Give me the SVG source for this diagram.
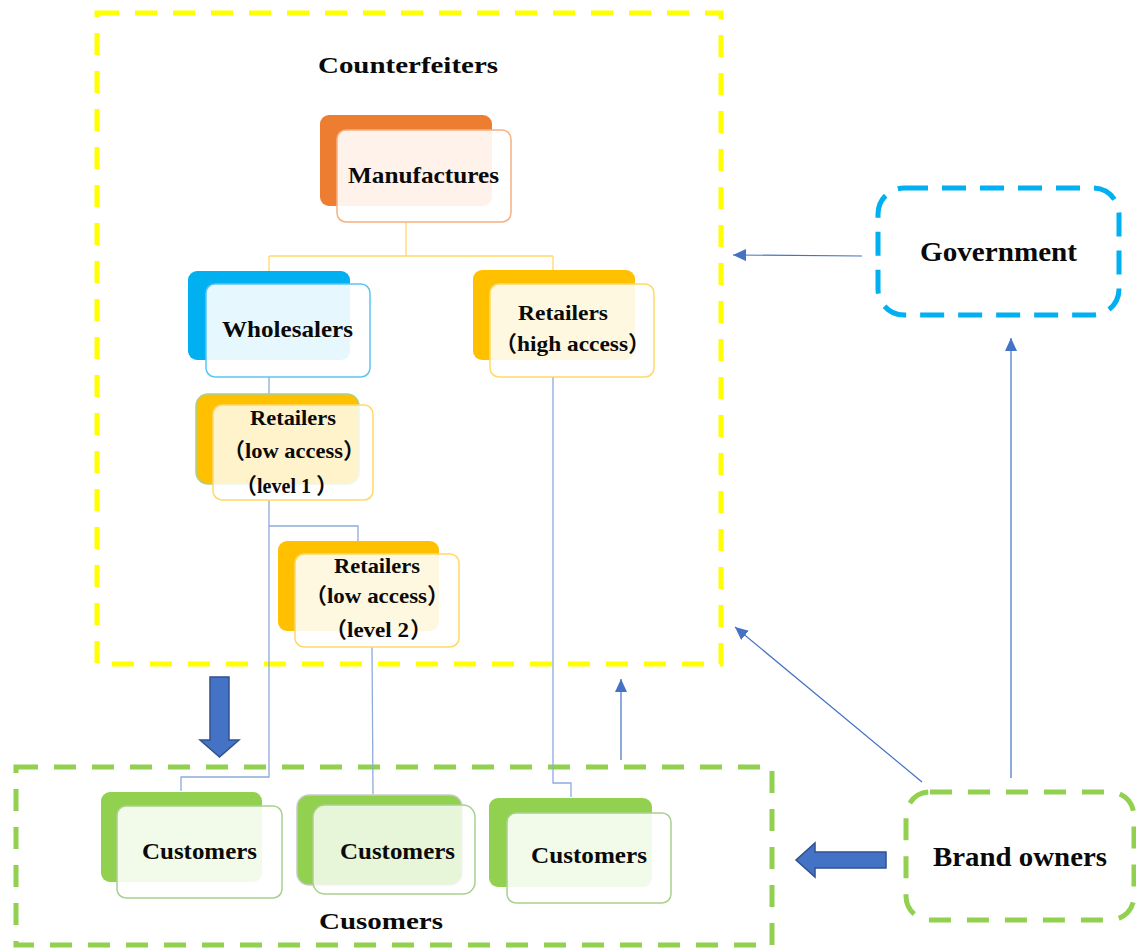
<svg xmlns="http://www.w3.org/2000/svg" width="1136" height="948" viewBox="0 0 1136 948">
  <defs>
    <marker id="tri" markerUnits="userSpaceOnUse" markerWidth="13" markerHeight="12" refX="13" refY="6" orient="auto">
      <path d="M0,0 L13,6 L0,12 z" fill="#4472C4"/>
    </marker>
  </defs>
  <style>
    text { font-family: "Liberation Serif", "Noto Sans CJK SC", serif; font-weight: bold; fill: #0a0a0a; }
    .t24 { font-size: 24px; }
    .t22 { font-size: 22px; }
    .t27 { font-size: 27px; }
    .po { font-size: 22px; font-weight: bold; text-anchor: end; }
    .pc { font-size: 22px; font-weight: bold; text-anchor: start; }
    .frame { fill: none; stroke-width: 5; stroke-dasharray: 22 16; }
    .back { stroke: none; }
    .front { stroke-width: 1.5; }
    .tree { fill: none; stroke-width: 1.3; }
    .arr { fill: none; stroke: #4472C4; stroke-width: 1.2; marker-end: url(#tri); }
    .block { fill: #4472C4; stroke: #2F528F; stroke-width: 1.5; }
  </style>
  <rect width="1136" height="948" fill="#ffffff"/>

  <!-- group frames -->
  <g id="counterfeiters-group">
    <rect class="frame" x="97" y="13" width="624" height="651" stroke="#FFFF00"/>
    <text class="t24" x="318" y="73" textLength="180" lengthAdjust="spacingAndGlyphs">Counterfeiters</text>
  </g>
  <g id="customers-group">
    <rect class="frame" x="16" y="767" width="756" height="178" stroke="#92D050"/>
    <text class="t24" x="319" y="929" textLength="124" lengthAdjust="spacingAndGlyphs">Cusomers</text>
  </g>

  <!-- connectors -->
  <g id="connectors">
    <!-- manufacturer tree -->
    <path class="tree" stroke="#FFD966" d="M406,222 V256 M269,256 H553 M269,256 V271 M553,256 V270"/>
    <!-- distribution lines -->
    <path class="tree" stroke="#8FAADC" d="M269,377 V394"/>
    <path class="tree" stroke="#8FAADC" d="M269,500 V777 H181 V791"/>
    <path class="tree" stroke="#8FAADC" d="M269,526 H358 V541"/>
    <path class="tree" stroke="#8FAADC" d="M372,647 L373,794"/>
    <path class="tree" stroke="#8FAADC" d="M553,377 V783 H571 V797"/>
    <!-- influence arrows -->
    <line class="arr" x1="862" y1="256" x2="733" y2="255"/>
    <line class="arr" x1="1011" y1="778" x2="1011" y2="338"/>
    <line class="arr" x1="922" y1="782" x2="735" y2="627"/>
    <line class="arr" x1="621" y1="760" x2="621" y2="679"/>
    <!-- block arrows -->
    <polygon class="block" points="210,677 229,677 229,740 239,740 219.5,757 200,740 210,740"/>
    <polygon class="block" points="886,852 815,852 815,843 796,860 815,877 815,868 886,868"/>
  </g>

  <!-- nodes -->
  <g id="manufactures">
    <rect class="back" x="320" y="115" width="172" height="91" rx="9" fill="#ED7D31"/>
    <rect class="front" x="337" y="130" width="174" height="92" rx="9" fill="#ffffff" fill-opacity="0.9" stroke="#F4B183"/>
    <text class="t24" x="348" y="183" textLength="151" lengthAdjust="spacingAndGlyphs">Manufactures</text>
  </g>

  <g id="wholesalers">
    <rect class="back" x="188" y="271" width="162" height="89" rx="9" fill="#00B0F0"/>
    <rect class="front" x="206" y="284" width="164" height="93" rx="9" fill="#ffffff" fill-opacity="0.9" stroke="#5BC5F2"/>
    <text class="t24" x="222" y="337" textLength="131" lengthAdjust="spacingAndGlyphs">Wholesalers</text>
  </g>

  <g id="retailers-high">
    <rect class="back" x="473" y="270" width="162" height="90" rx="9" fill="#FFC000"/>
    <rect class="front" x="490" y="284" width="164" height="93" rx="9" fill="#ffffff" fill-opacity="0.88" stroke="#FFD966"/>
    <text class="t22" x="518" y="320" textLength="90" lengthAdjust="spacingAndGlyphs">Retailers</text>
    <text class="po" x="517" y="351">（</text>
    <text class="t22" x="517" y="351" textLength="111" lengthAdjust="spacingAndGlyphs">high access</text>
    <text class="pc" x="628" y="351">）</text>
  </g>

  <g id="retailers-low-1">
    <rect x="196" y="394" width="163" height="90" rx="12" fill="#FFC000" stroke="#A9D18E" stroke-width="1.5"/>
    <rect class="front" x="213" y="405" width="160" height="95" rx="9" fill="#ffffff" fill-opacity="0.8" stroke="#FFD966"/>
    <text class="t22" x="250" y="425" textLength="86" lengthAdjust="spacingAndGlyphs">Retailers</text>
    <text class="po" x="245" y="458">（</text>
    <text class="t22" x="245" y="458" textLength="98" lengthAdjust="spacingAndGlyphs">low access</text>
    <text class="pc" x="343" y="458">）</text>
    <text class="po" x="257" y="493">（</text>
    <text class="t22" x="257" y="493" textLength="54" lengthAdjust="spacingAndGlyphs">level 1</text>
    <text class="pc" x="316" y="493">）</text>
  </g>

  <g id="retailers-low-2">
    <rect class="back" x="278" y="541" width="161" height="90" rx="9" fill="#FFC000"/>
    <rect class="front" x="295" y="554" width="164" height="93" rx="9" fill="#ffffff" fill-opacity="0.88" stroke="#FFD966"/>
    <text class="t22" x="334" y="573" textLength="86" lengthAdjust="spacingAndGlyphs">Retailers</text>
    <text class="po" x="327" y="603">（</text>
    <text class="t22" x="327" y="603" textLength="100" lengthAdjust="spacingAndGlyphs">low access</text>
    <text class="pc" x="427" y="603">）</text>
    <text class="po" x="347" y="637">（</text>
    <text class="t22" x="347" y="637" textLength="62" lengthAdjust="spacingAndGlyphs">level 2</text>
    <text class="pc" x="410" y="637">）</text>
  </g>

  <g id="customers-1">
    <rect class="back" x="101" y="792" width="161" height="90" rx="9" fill="#92D050"/>
    <rect class="front" x="117" y="806" width="165" height="92" rx="9" fill="#ffffff" fill-opacity="0.88" stroke="#A9D18E"/>
    <text class="t24" x="142" y="859" textLength="115" lengthAdjust="spacingAndGlyphs">Customers</text>
  </g>

  <g id="customers-2">
    <rect x="297" y="795" width="165" height="90" rx="12" fill="#92D050" stroke="#C9C9C9" stroke-width="1.5"/>
    <rect class="front" x="313" y="805" width="162" height="89" rx="12" fill="#ffffff" fill-opacity="0.78" stroke="#A9D18E"/>
    <text class="t24" x="340" y="859" textLength="115" lengthAdjust="spacingAndGlyphs">Customers</text>
  </g>

  <g id="customers-3">
    <rect class="back" x="489" y="798" width="163" height="89" rx="9" fill="#92D050"/>
    <rect class="front" x="507" y="813" width="164" height="90" rx="9" fill="#ffffff" fill-opacity="0.88" stroke="#A9D18E"/>
    <text class="t24" x="531" y="863" textLength="116" lengthAdjust="spacingAndGlyphs">Customers</text>
  </g>

  <g id="government">
    <rect x="878" y="188" width="241" height="127" rx="26" fill="none" stroke="#00B0F0" stroke-width="5" stroke-dasharray="24 14"/>
    <text class="t27" x="920" y="261" textLength="157" lengthAdjust="spacingAndGlyphs">Government</text>
  </g>

  <g id="brand-owners">
    <rect x="906" y="792" width="228" height="128" rx="24" fill="none" stroke="#92D050" stroke-width="5" stroke-dasharray="22 16"/>
    <text class="t27" x="933" y="866" textLength="174" lengthAdjust="spacingAndGlyphs">Brand owners</text>
  </g>
</svg>
